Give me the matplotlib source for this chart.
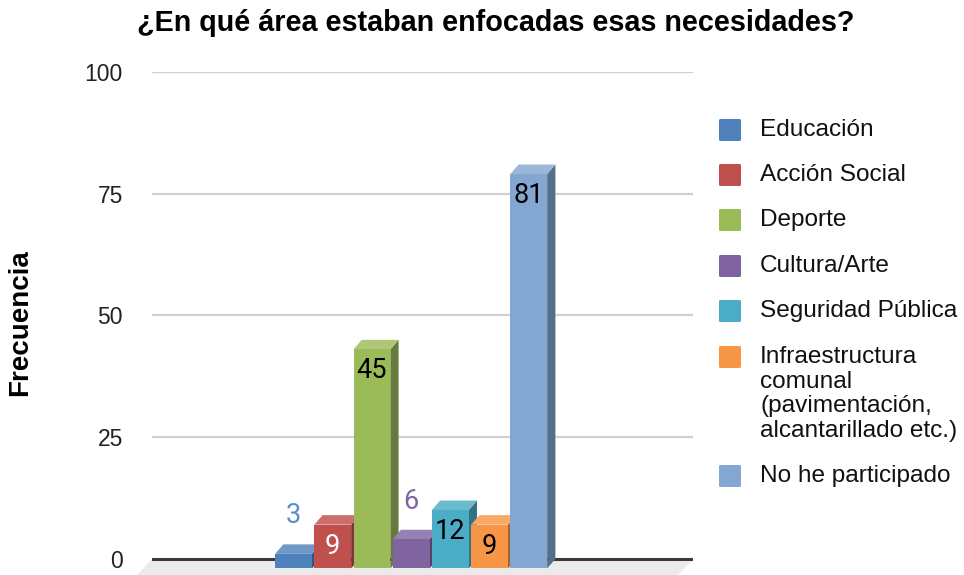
import numpy as np
import matplotlib
matplotlib.use("Agg")
import matplotlib.pyplot as plt
from matplotlib.patches import Polygon, FancyBboxPatch
from matplotlib.colors import to_rgb

# data
categories = ["Educación", "Acción Social", "Deporte", "Cultura/Arte",
              "Seguridad Pública",
              "Infraestructura\ncomunal\n(pavimentación,\nalcantarillado etc.)",
              "No he participado"]
values = [3, 9, 45, 6, 12, 9, 81]
colors = ["#4f81bd", "#c0504d", "#9bbb59", "#8064a2", "#4bacc6", "#f79646", "#84a7d2"]
label_colors = ["#5b8cd0", "white", "black", "#8064a2", "black", "black", "black"]
yticks = [0, 25, 50, 75, 100]

W, H = 964, 575
fig = plt.figure(figsize=(W / 100, H / 100), dpi=100)

def fx(p):
    return p / W

def fy(p):
    return 1 - p / H

# axes covers the back wall: x 152..693 px, y 72 (100) .. 575 (bottom of floor)
ax = fig.add_axes([fx(152), 0, (693 - 152) / W, (575 - 72) / H])
ax.set_xlim(-3.61, 10.19)
ax.set_ylim(-3.29, 100)
for s in ax.spines.values():
    s.set_visible(False)
ax.set_xticks([])
ax.set_yticks(yticks)
ax.set_yticklabels([str(t) for t in yticks], fontsize=16.5, family="Liberation Sans", color="#222222")
ax.tick_params(axis="y", length=0, pad=21)
for t in yticks[1:]:
    ax.axhline(t, color="#cfcfcf", lw=1.6, zorder=0)
ax.axhline(0, color="#3a3a3a", lw=2.2, zorder=1)

# floor
xl, xr = ax.get_xlim()
fdx = 0.38
floor = Polygon([(xl, 0), (xr, 0), (xr - fdx, -3.29), (xl - fdx, -3.29)],
                closed=True, facecolor="#ebebeb", edgecolor="none", zorder=0.5, clip_on=False)
ax.add_patch(floor)

def shade(c, f):
    r = np.array(to_rgb(c))
    if f < 1:
        return tuple(r * f)
    return tuple(r + (1 - r) * (f - 1))

bw = 0.94
dx = 0.21
dy = 1.95
for i, v in enumerate(values):
    x0 = i - bw / 2
    x1 = i + bw / 2
    c = colors[i]
    side = Polygon([(x1, -dy), (x1 + dx, 0), (x1 + dx, v), (x1, v - dy)],
                   closed=True, facecolor=shade(c, 0.66), edgecolor="none", zorder=2 + i)
    top = Polygon([(x0, v - dy), (x1, v - dy), (x1 + dx, v), (x0 + dx, v)],
                  closed=True, facecolor=shade(c, 1.18), edgecolor="none", zorder=2 + i)
    front = Polygon([(x0, -dy), (x1, -dy), (x1, v - dy), (x0, v - dy)],
                    closed=True, facecolor=c, edgecolor="none", zorder=2 + i)
    for p in (side, top, front):
        ax.add_patch(p)
    if v >= 9:
        ax.text(i, v - dy - 4.4, str(v), ha="center", va="center", fontsize=19.5,
                family="Roboto", color=label_colors[i], zorder=20)
    else:
        ax.text(i, v - dy + 7.8, str(v), ha="center", va="center", fontsize=19.5,
                family="Roboto", color=label_colors[i], zorder=20)

# title and axis label
fig.text(fx(137), fy(23), "¿En qué área estaban enfocadas esas necesidades?",
         fontsize=20.7, fontweight="bold", family="Liberation Sans", va="center", ha="left")
fig.text(fx(20), fy(323), "Frecuencia", rotation=90, fontsize=20, fontweight="bold",
         family="Liberation Sans", va="center", ha="center")

# legend
row_y = [130, 175, 220, 266, 311, 357, 476]
for k, (name, c) in enumerate(zip(categories, colors)):
    y = row_y[k]
    fig.patches.append(FancyBboxPatch((fx(719), fy(y + 11)), 22 / W, 22 / H,
                                      boxstyle="round,pad=0,rounding_size=0.002",
                                      transform=fig.transFigure, facecolor=c, edgecolor="none"))
    for j, line in enumerate(name.split("\n")):
        fig.text(fx(760), fy(y + j * 24.5), line, fontsize=17.6, family="Liberation Sans",
                 va="center", ha="left", color="#111111")

fig.savefig("out.png", dpi=100)
